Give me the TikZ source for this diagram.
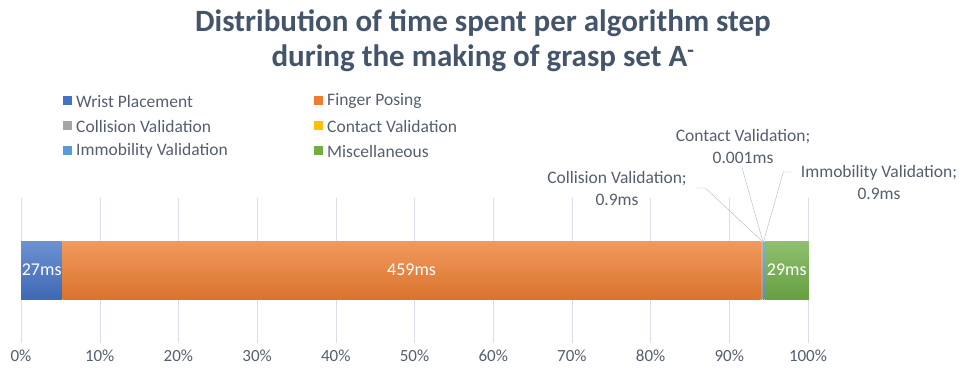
\documentclass[tikz,border=0pt]{standalone}
\usepackage{fontspec}
\setmainfont{Carlito}
\usepackage{xcolor}
\usetikzlibrary{positioning,calc}
\definecolor{titlegray}{HTML}{44546A}
\definecolor{textgray}{HTML}{555E6E}
\definecolor{gridgray}{HTML}{D9DEE8}
\definecolor{wristblue}{HTML}{4472C4}
\definecolor{fingerorange}{HTML}{ED7D31}
\definecolor{collisiongray}{HTML}{A5A5A5}
\definecolor{contactgold}{HTML}{FFC000}
\definecolor{immoblue}{HTML}{5B9BD5}
\definecolor{miscgreen}{HTML}{70AD47}
\tikzset{
segment/.style={
inner sep=0pt,
minimum height=58pt,
top color=#1!78!white,
bottom color=#1!92!black,
text=white,
font=\fontsize{18}{20}\selectfont
},
legendbox/.style={
fill=#1,
inner sep=0pt,
minimum size=9pt
},
legendtext/.style={
text=textgray,
font=\fontsize{17.5}{20}\selectfont
},
datalabel/.style={
align=center,
text=textgray,
font=\fontsize{17.5}{22}\selectfont
},
leader/.style={
draw=gridgray!70!textgray,
thin
}
}

\begin{document}
\begin{tikzpicture}[x=1pt,y=-1pt]
\useasboundingbox (0,0) rectangle (966,374);
% title
\node[text=titlegray,align=center,font=\fontsize{31}{35}\selectfont\bfseries](title) at (483,41)
{Distribution of time spent per algorithm step\\during the making of grasp set A\textsuperscript{-}};

% legend
\foreach \n/\c/\t/\x/\y in {wrist/wristblue/Wrist Placement/67/101,
finger/fingerorange/Finger Posing/318/101,
collision/collisiongray/Collision Validation/67/126,
contact/contactgold/Contact Validation/318/126,
immo/immoblue/Immobility Validation/67/151,
misc/miscgreen/Miscellaneous/318/151}{
\node[legendbox=\c](key\n) at (\x,\y){};
\node[legendtext,right=1pt of key\n](txt\n){\t};
}

% grid and axis
\foreach \p [count=\i from 0] in {0\%,10\%,20\%,30\%,40\%,50\%,60\%,70\%,80\%,90\%,100\%}{
\draw[gridgray] (21+78.7*\i,198) -- (21+78.7*\i,343);
\node[text=textgray,font=\fontsize{17}{20}\selectfont](tick\i) at (21+78.7*\i,356){\p};
}

% bar
\node[segment=wristblue,minimum width=41pt,anchor=west](wrist) at (21,270){27ms};
\node[segment=fingerorange,minimum width=698pt,right=0pt of wrist](finger){459ms};
\node[segment=collisiongray,minimum width=1.3pt,right=0pt of finger](collision){};
\node[segment=contactgold,minimum width=0.01pt,right=0pt of collision](contact){};
\node[segment=immoblue,minimum width=1.3pt,right=0pt of contact](immobility){};
\node[segment=miscgreen,minimum width=44pt,right=0pt of immobility](misc){29ms};

% labels of the thin segments
\node[datalabel](collab) at (617,188){Collision Validation;\\0.9ms};
\node[datalabel](contlab) at (743,146){Contact Validation;\\0.001ms};
\node[datalabel](immlab) at (879,182){Immobility Validation;\\0.9ms};

\draw[leader] ([xshift=6pt]collab.east) -- ++(9,0) -- (collision.north);
\draw[leader] ([xshift=-1pt,yshift=-1pt]contlab.south) -- (contact.north);
\draw[leader] ([xshift=-5pt,yshift=10pt]immlab.west) -- ++(-9,0) -- (immobility.north);
\end{tikzpicture}
\end{document}
